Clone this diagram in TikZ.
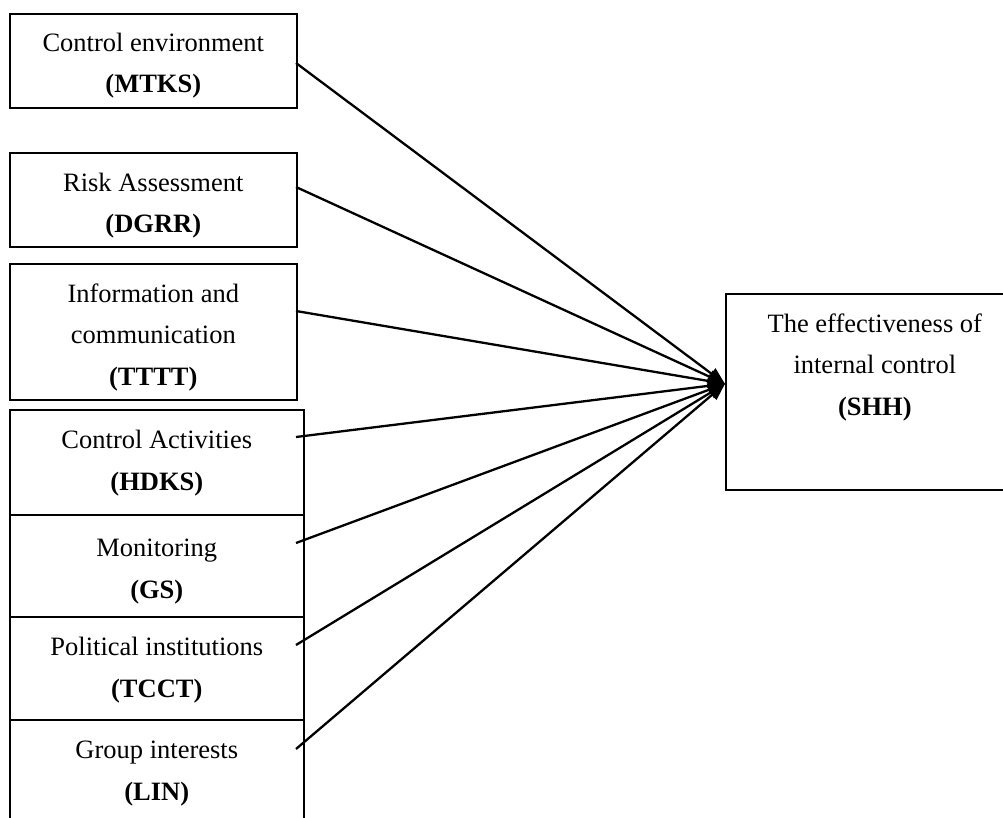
\documentclass[tikz,border=0pt]{standalone}
\usepackage{fontspec}
\setmainfont{Liberation Serif}
\usetikzlibrary{positioning, arrows.meta, calc}

\begin{document}
\begin{tikzpicture}[x=1pt, y=-1pt,
    factor/.style={draw, line width=1.6pt, anchor=north west, inner sep=0pt},
    caption/.style={anchor=base, align=center, inner sep=0pt,
      font=\fontsize{26.5}{41.5}\selectfont},
    link/.style={line width=2.3pt, -{Triangle[length=17pt, width=13pt]}}]
  \useasboundingbox (0,0) rectangle (1003,818);

  % Factor boxes on the left
  \node[factor, minimum width=287, minimum height=94] (mtks) at (9,13) {};
  \node[factor, minimum width=287, minimum height=94] (dgrr) at (9,152) {};
  \node[factor, minimum width=287, minimum height=136] (tttt) at (9,263) {};
  \node[factor, minimum width=294, minimum height=105] (hdks) at (9,409) {};
  \node[factor, minimum width=294, minimum height=102] (gs) at (9,514) {};
  \node[factor, minimum width=294, minimum height=103] (tcct) at (9,616) {};
  \node[factor, minimum width=294, minimum height=111] (lin) at (9,719) {};

  % base = last line, so offsets go to the bold line
  \node[caption] (mtks-t) at ($(mtks.north)+(0,80)$) {Control environment\\\textbf{(MTKS)}};
  \node[caption] (dgrr-t) at ($(dgrr.north)+(0,81)$) {Risk Assessment\\\textbf{(DGRR)}};
  \node[caption] (tttt-t) at ($(tttt.north)+(0,122)$) {Information and\\communication\\\textbf{(TTTT)}};
  \node[caption] (hdks-t) at ($(hdks.north)+(0,81)$) {Control Activities\\\textbf{(HDKS)}};
  \node[caption] (gs-t) at ($(gs.north)+(0,84)$) {Monitoring\\\textbf{(GS)}};
  \node[caption] (tcct-t) at ($(tcct.north)+(0,81)$) {Political institutions\\\textbf{(TCCT)}};
  \node[caption] (lin-t) at ($(lin.north)+(0,81)$) {Group interests\\\textbf{(LIN)}};

  % Dependent variable
  \node[factor, minimum width=298, minimum height=196] (shh) at (725,293) {};
  \node[caption] (shh-t) at ($(shh.north)+(0,122)$) {The effectiveness of\\internal control\\\textbf{(SHH)}};

  % Arrows into the right box
  \coordinate (sink) at ([yshift=8pt]shh.west);
  \foreach \src/\yy in {mtks/50, dgrr/35, tttt/48, hdks/28, gs/29, tcct/29, lin/30}
    \draw[link] ($(\src.north west)+(287,\yy)$) -- (sink);
\end{tikzpicture}
\end{document}
